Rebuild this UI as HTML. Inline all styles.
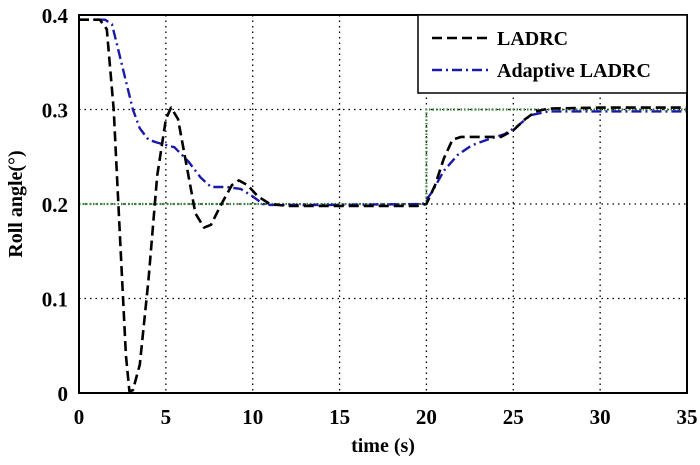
<!DOCTYPE html>
<html><head><meta charset="utf-8"><style>
body{margin:0;background:#fff}
svg text{font-family:"Liberation Serif",serif;font-weight:bold;fill:#000}
</style></head><body>
<svg id="c" width="700" height="460">
</svg>
<script>
const xTicks=[0,5,10,15,20,25,30,35];
const yTicks=[0,0.1,0.2,0.3,0.4];
const yTickLabels=["0","0.1","0.2","0.3","0.4"];
const refT=[0,20,20,35];
const refV=[0.2,0.2,0.3,0.3];
const ladrcT=[0,1.2,1.6,2.0,2.4,2.7,2.9,3.1,3.5,4.0,4.5,5.0,5.3,5.7,6.2,6.7,7.2,7.6,8.2,8.8,9.2,9.7,10.3,11,12,15,19.5,20,20.5,21,21.5,22,23,24.3,25,25.7,26.3,27,30,35];
const ladrcV=[0.395,0.395,0.385,0.3,0.15,0.04,0.002,0.003,0.03,0.12,0.23,0.29,0.302,0.29,0.24,0.19,0.175,0.178,0.2,0.22,0.225,0.22,0.208,0.2,0.198,0.198,0.198,0.2,0.22,0.248,0.268,0.271,0.271,0.271,0.278,0.29,0.298,0.301,0.302,0.302];
const adaT=[0,1.5,1.9,2.3,2.7,3.1,3.5,4.0,4.5,5.5,6.3,7.0,7.6,8.5,9.3,10,10.6,11,15,19.8,20.3,21,21.8,22.6,23.5,24.5,25.2,26,27,35];
const adaV=[0.395,0.395,0.39,0.36,0.33,0.3,0.28,0.268,0.265,0.26,0.245,0.228,0.218,0.218,0.216,0.208,0.2,0.199,0.199,0.2,0.212,0.235,0.252,0.262,0.268,0.274,0.282,0.294,0.298,0.298];
const X0=79,X1=687,Y0=393,Y1=15;
const sx=t=>X0+(X1-X0)*t/35, sy=v=>Y0-(Y0-Y1)*v/0.4;
const svg=document.getElementById('c');const NS='http://www.w3.org/2000/svg';
function mk(tag,attrs,parent){const e=document.createElementNS(NS,tag);for(const k in attrs)e.setAttribute(k,attrs[k]);(parent||svg).appendChild(e);return e;}
xTicks.forEach((t,i)=>{
 if(i>0&&i<xTicks.length-1){const g=mk('line',{x1:sx(t),x2:sx(t),y1:Y1,y2:Y0,stroke:'#000','stroke-width':1.3,'stroke-dasharray':'1.5,4'});
 
 }
 const l=mk('text',{x:sx(t),y:424,'font-size':21,'text-anchor':'middle'});l.textContent=t;
 
 
});
yTicks.forEach((v,i)=>{
 if(i>0&&i<yTicks.length-1){const g=mk('line',{x1:X0,x2:X1,y1:sy(v),y2:sy(v),stroke:'#000','stroke-width':1.3,'stroke-dasharray':'1.5,4'});
 
 }
 const l=mk('text',{x:68,y:sy(v)+8,'font-size':21,'text-anchor':'end'});l.textContent=yTickLabels[i];
 
 
});
function path(T,V){return T.map((t,i)=>(i?'L':'M')+sx(t).toFixed(1)+','+sy(V[i]).toFixed(1)).join('');}
const r=mk('path',{d:path(refT,refV),fill:'none',stroke:'#3a8a3a','stroke-width':2.2,'stroke-dasharray':'1.5,2'});


const a=mk('path',{d:path(adaT,adaV),fill:'none',stroke:'#1a1aa8','stroke-width':2.4,'stroke-dasharray':'10,4,2,4','stroke-linejoin':'round'});


const b=mk('path',{d:path(ladrcT,ladrcV),fill:'none',stroke:'#000','stroke-width':2.6,'stroke-dasharray':'10,5','stroke-linejoin':'round'});


const f=mk('rect',{x:X0,y:Y1,width:X1-X0,height:Y0-Y1,fill:'none',stroke:'#000','stroke-width':2});


const lg=mk('g',{});


mk('rect',{x:418,y:15,width:269,height:78,fill:'#fff',stroke:'#000','stroke-width':1.5},lg);
mk('line',{x1:432,x2:492,y1:38,y2:38,stroke:'#000','stroke-width':2.6,'stroke-dasharray':'10,5'},lg);
mk('line',{x1:432,x2:492,y1:70,y2:70,stroke:'#1a1aa8','stroke-width':2.4,'stroke-dasharray':'10,4,2,4'},lg);
const t1=mk('text',{x:497,y:45,'font-size':20},lg);t1.textContent='LADRC';


const t2=mk('text',{x:497,y:77,'font-size':20},lg);t2.textContent='Adaptive LADRC';


const xl=mk('text',{x:383,y:452,'font-size':20,'text-anchor':'middle'});xl.textContent='time (s)';


const yl=mk('text',{x:0,y:0,'font-size':20,'text-anchor':'middle',transform:'translate(22,204) rotate(-90)'});yl.textContent='Roll angle(°)';


</script>
</body></html>
